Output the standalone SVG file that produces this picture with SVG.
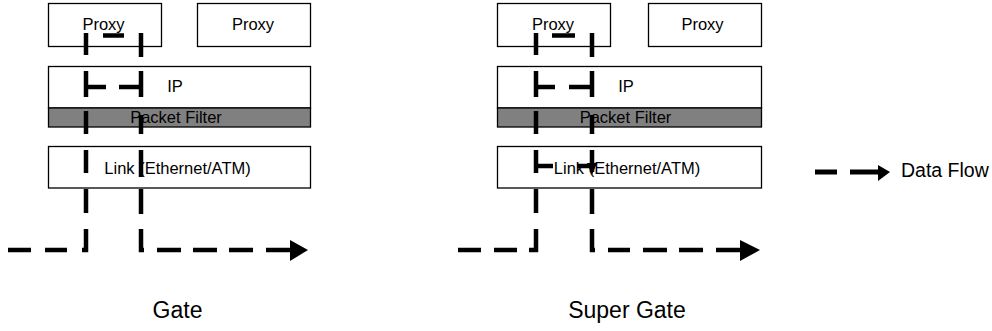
<svg xmlns="http://www.w3.org/2000/svg" width="992" height="331" viewBox="0 0 992 331">
<style>
.box{fill:#fff;stroke:#000;stroke-width:1.3}
.filter{fill:#808080;stroke:#000;stroke-width:1.3}
.lbl{font-family:"Liberation Sans",Arial,sans-serif;font-size:16.5px;fill:#000;text-anchor:middle}
.cap{font-family:"Liberation Sans",Arial,sans-serif;font-size:23px;fill:#000;text-anchor:middle}
.leg{font-family:"Liberation Sans",Arial,sans-serif;font-size:19.5px;fill:#000}
.flow{fill:none;stroke:#000;stroke-width:4.5;stroke-linecap:butt;stroke-linejoin:miter}
.head{fill:#000}
</style>
<rect width="992" height="331" fill="#fff"/>
<g id="gate">
  <g id="gate-proxy1"><rect class="box" x="48.5" y="3.5" width="113" height="43"/><text class="lbl" x="103.5" y="30">Proxy</text></g>
  <g id="gate-proxy2"><rect class="box" x="197.5" y="3.5" width="113" height="43"/><text class="lbl" x="253" y="30">Proxy</text></g>
  <g id="gate-ip"><rect class="box" x="48.5" y="66.5" width="262" height="41.5"/><text class="lbl" x="175" y="92">IP</text></g>
  <g id="gate-filter"><rect class="filter" x="48.5" y="108" width="262" height="19"/><text class="lbl" x="176" y="123">Packet Filter</text></g>
  <g id="gate-link"><rect class="box" x="48.5" y="146.5" width="262" height="41.5"/><text class="lbl" x="177.5" y="174">Link (Ethernet/ATM)</text></g>
  <text id="gate-caption" class="cap" x="177.5" y="318">Gate</text>
</g>
<g id="supergate">
  <g id="sg-proxy1"><rect class="box" x="497.5" y="3.5" width="113" height="43"/><text class="lbl" x="553" y="30">Proxy</text></g>
  <g id="sg-proxy2"><rect class="box" x="648.5" y="3.5" width="113" height="43"/><text class="lbl" x="702.5" y="30">Proxy</text></g>
  <g id="sg-ip"><rect class="box" x="497.5" y="66.5" width="264" height="41.5"/><text class="lbl" x="626" y="92">IP</text></g>
  <g id="sg-filter"><rect class="filter" x="497.5" y="108" width="264" height="19"/><text class="lbl" x="625.5" y="123">Packet Filter</text></g>
  <g id="sg-link"><rect class="box" x="497.5" y="146.5" width="264" height="41.5"/><text class="lbl" x="627" y="174">Link (Ethernet/ATM)</text></g>
  <text id="sg-caption" class="cap" x="627" y="318">Super Gate</text>
</g>
<g id="connectors">
  <g id="gate-flow">
    <path class="flow" d="M8,250H31 M45,250H67 M82,250H86V229 M86,213V189 M86,173V150 M86,134V111 M86,97V71 M86,87H106 M86,55V33 M103,35.5H124 M141,33V57 M141,71V97 M119,87H141 M141,115V134 M141,150V177 M141,189V214 M141,229V250H144 M157,250H181 M193,250H217 M229,250H253 M266,250H291"/>
    <polygon class="head" points="290,240 308,250 290,261"/>
  </g>
  <g id="sg-flow">
    <path class="flow" d="M458,250H481 M494,250H517 M529,250H536V229 M536,213V189 M536,173V150 M536,166H553 M536,134V111 M536,97V71 M536,87H555 M536,55V33 M552,35.5H575 M592,33V57 M592,71V97 M569,87H592 M592,115V134 M592,150V172 M577,166H592 M592,189V214 M592,229V250H595 M608,250H630 M643,250H667 M679,250H703 M716,250H741"/>
    <polygon class="head" points="587,163 597,163 592,175"/>
    <polygon class="head" points="740,240 760,250 740,261"/>
  </g>
  <g id="legend-flow">
    <path class="flow" style="stroke-width:5" d="M815,172H837 M850,172H879"/>
    <polygon class="head" points="878,165 890,172 878,181"/>
  </g>
</g>
<text id="legend-label" class="leg" x="901" y="177">Data Flow</text>
</svg>
